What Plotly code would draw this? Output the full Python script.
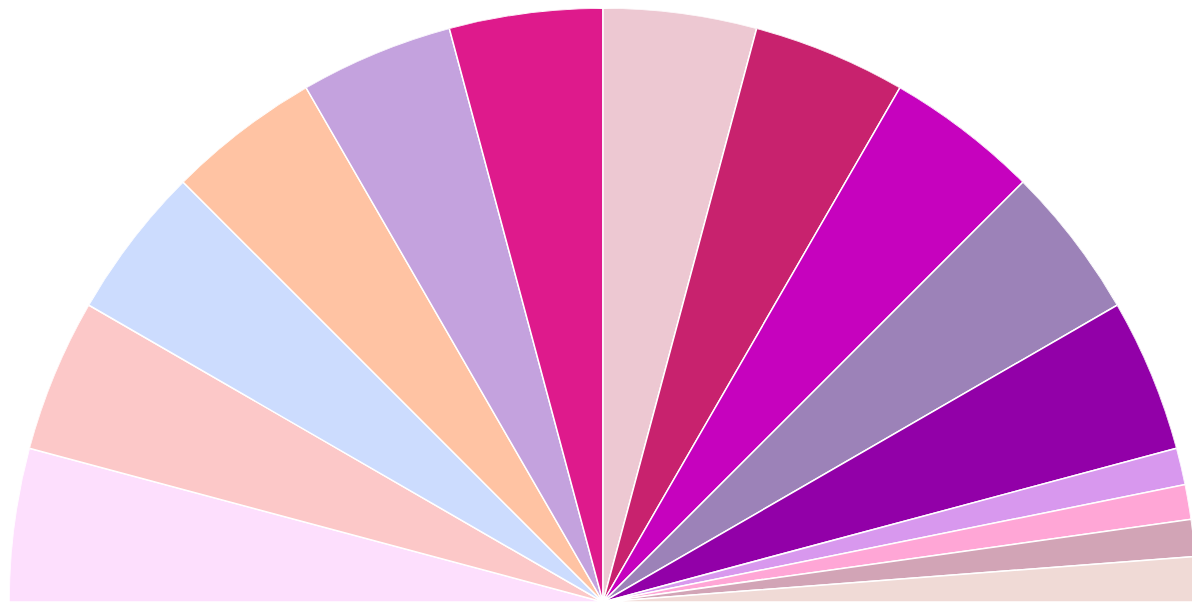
import plotly.graph_objects as go

# Slice shares (in degrees of the half circle), listed left -> right
categories = ["A", "B", "C", "D", "E", "F", "G", "H", "I", "J", "K", "L", "M", "N", "O"]
values = [15, 15, 15, 15, 15, 15, 15, 15, 15, 15, 15, 3.6, 3.4, 3.6, 4.4]
colors = ["#FDDFFD", "#FCC8C8", "#CCDCFE", "#FFC3A3", "#C4A2DE", "#DE1A8C",
          "#EDC8D2", "#C8226E", "#C602BE", "#9C82B8", "#9200A8", "#D898EE",
          "#FFA6D6", "#D2A4B6", "#F0DAD6"]

total = sum(values)
widths = [v / total * 180 for v in values]
thetas = []
acc = 0
for w in widths:
    thetas.append(acc + w / 2)
    acc += w

fig = go.Figure(go.Barpolar(
    r=[1] * len(values),
    theta=thetas,
    width=widths,
    marker=dict(color=colors, line=dict(color="white", width=1.5)),
    text=categories,
    hoverinfo="text",
))

fig.update_layout(
    width=1200, height=604,
    margin=dict(l=1, r=11, t=0, b=10, pad=0),
    paper_bgcolor="white",
    showlegend=False,
    polar=dict(
        sector=[0, 180],
        bgcolor="white",
        bargap=0,
        angularaxis=dict(direction="clockwise", rotation=180, visible=False),
        radialaxis=dict(range=[0, 1], visible=False),
    ),
)

fig.write_html("out.html")
